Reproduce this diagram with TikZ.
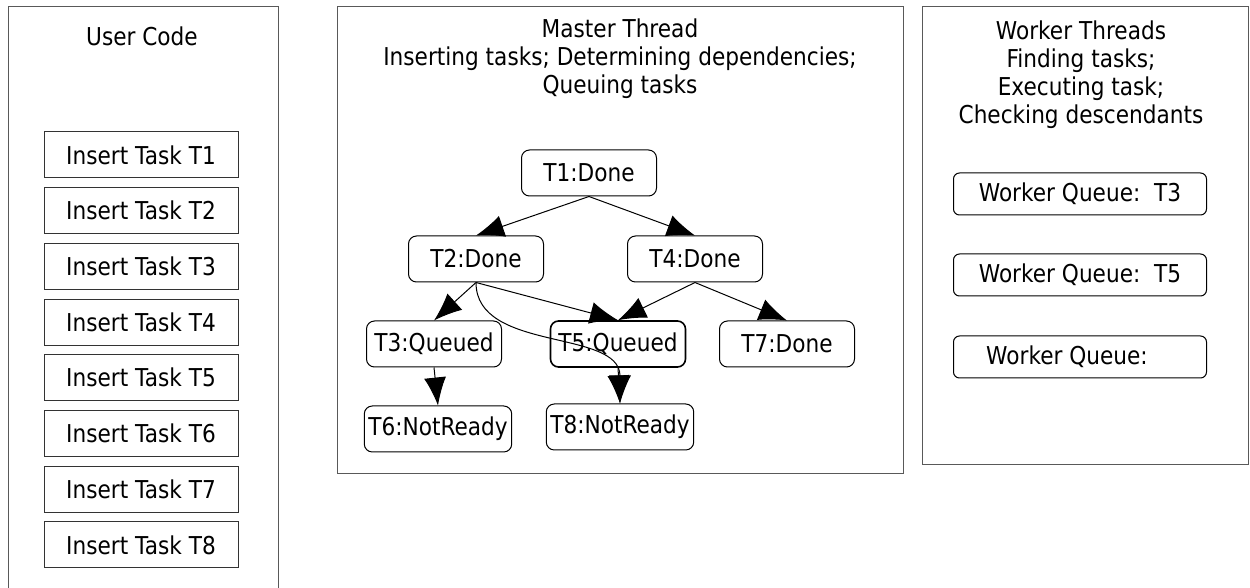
\documentclass[tikz,border=0pt]{standalone}
\usepackage{fontspec}
\setmainfont{DejaVu Sans}[FakeStretch=0.88]
\usetikzlibrary{arrows.meta,positioning}
\tikzset{
	frame/.style={draw=black!65},
	insertbox/.style={draw=black!80, minimum width=97pt, minimum height=23pt, inner sep=0pt},
	taskbox/.style={draw, rounded corners=4pt, minimum width=67.5pt, minimum height=23pt, inner xsep=2pt},
	queuebox/.style={draw, rounded corners=3pt, minimum width=126.5pt, minimum height=21pt},
	dep/.style={-{Latex[length=14pt,width=11pt]}},
}
\begin{document}
\begin{tikzpicture}[x=0.5pt,y=-0.5pt,line width=0.5pt,font=\fontsize{12.3}{14}\selectfont]
	\useasboundingbox (0,0) rectangle (1250,588);
	\draw[frame] (8,588) -- (8,7) -- (278,7) -- (278,588);
	\draw[frame] (337,7) rectangle (903,474);
	\draw[frame] (922,7) rectangle (1248,465);
	
	\node (user) at (142,36) {User Code};
	\foreach \i in {1,...,8}
		\node[insertbox] (ins\i) at (141,{155+55.7*(\i-1)}) {Insert Task T\i};
	
	\node[align=center] (master) at (620,59) {Master Thread\\Inserting tasks; Determining dependencies;\\Queuing tasks};
	\node[align=center] (worker) at (1081,75) {Worker Threads\\Finding tasks;\\Executing task;\\Checking descendants};
	
	\node[taskbox] (t1) at (589,173) {T1:Done};
	\node[taskbox] (t2) at (476,259) {T2:Done};
	\node[taskbox] (t4) at (695,259) {T4:Done};
	\node[taskbox] (t3) at (434,344) {T3:Queued};
	\node[taskbox, line width=0.8pt] (t5) at (618,344) {T5:Queued};
	\node[taskbox] (t7) at (787,344) {T7:Done};
	\node[taskbox] (t6) at (438,429) {T6:NotReady};
	\node[taskbox] (t8) at (620,427) {T8:NotReady};
	
	\node[queuebox] (q1) at (1080,194) {Worker Queue:\ \ T3};
	\node[queuebox] (q2) at (1080,275) {Worker Queue:\ \ T5};
	\node[queuebox] (q3) at (1080,357) {Worker Queue:\kern13pt};
	
	\draw[dep] (t1.south) -- (t2.north);
	\draw[dep] (t1.south) -- (t4.north);
	\draw[dep] (t2.south) -- (t3.north);
	\draw[dep] (t2.south) -- (t5.north);
	\draw[dep] (t4.south) -- (t5.north);
	\draw[dep] (t4.south) -- (t7.north);
	\draw[dep] (t3.south) -- (t6.north);
	\draw[dep] (t5.south) -- (t8.north);
	\draw[dep] (t2.south) .. controls +(0,70) and +(0,-75) .. (t8.north);
\end{tikzpicture}
\end{document}
